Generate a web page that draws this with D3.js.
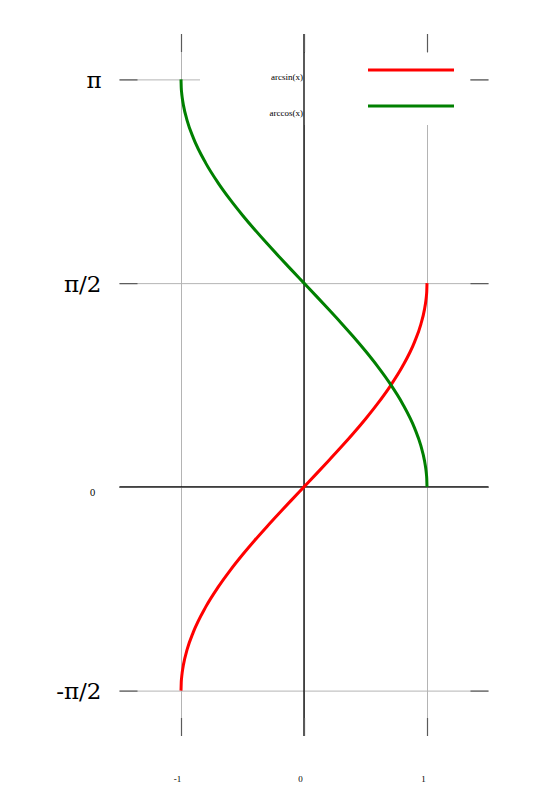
<!DOCTYPE html>
<html>
<head>
<meta charset="utf-8">
<script src="https://cdn.jsdelivr.net/npm/d3@7"></script>
<style>
  body { margin: 0; background: #fff; }
  svg { display: block; }
</style>
</head>
<body>
<div id="chart"></div>
<script>
var xs = [-1, -0.998, -0.995, -0.99, -0.98, -0.95, -0.9, -0.8, -0.7, -0.6, -0.5, -0.4, -0.3, -0.2, -0.1,
  0, 0.1, 0.2, 0.3, 0.4, 0.5, 0.6, 0.7, 0.8, 0.9, 0.95, 0.98, 0.99, 0.995, 0.998, 1];
var arcsinVals = [-1.570796, -1.507540, -1.470755, -1.429257, -1.370461, -1.253236, -1.119770, -0.927295, -0.775397, -0.643501, -0.523599, -0.411517, -0.304693, -0.201358, -0.100167,
  0, 0.100167, 0.201358, 0.304693, 0.411517, 0.523599, 0.643501, 0.775397, 0.927295, 1.119770, 1.253236, 1.370461, 1.429257, 1.470755, 1.507540, 1.570796];
var arccosVals = [3.141593, 3.078333, 3.041551, 3.000054, 2.941258, 2.824032, 2.690566, 2.498092, 2.346194, 2.214297, 2.094395, 1.982313, 1.875489, 1.772154, 1.670964,
  1.570796, 1.470629, 1.369438, 1.266104, 1.159279, 1.047198, 0.927295, 0.795399, 0.643501, 0.451027, 0.317560, 0.200335, 0.141539, 0.100042, 0.063256, 0];

var xTicks = [-1, 0, 1];
var xTickLabels = ["-1", "0", "1"];
var yTicks = [-Math.PI / 2, 0, Math.PI / 2, Math.PI];
var yTickLabels = ["-\u03c0/2", "0", "\u03c0/2", "\u03c0"];
var seriesNames = ["arcsin(x)", "arccos(x)"];
var seriesColors = ["#ff0000", "#008000"];

var width = 540, height = 810;
var plotLeft = 119.5, plotRight = 488.5, plotTop = 34, plotBottom = 736;
var tickLen = 18;

var svg = d3.select("#chart").append("svg")
  .attr("width", width)
  .attr("height", height);

var x = d3.scaleLinear().domain([-1.5, 1.5]).range([plotLeft, plotRight]);
var y = d3.scaleLinear().domain([-Math.PI / 2 - 0.35, Math.PI + 0.35]).range([plotBottom, plotTop]);

// grid lines
svg.append("g")
  .attr("transform", `translate(0,${plotBottom})`)
  .call(d3.axisBottom(x).tickValues(xTicks).tickSize(-(plotBottom - plotTop)).tickFormat(""))
  .call(g => g.select(".domain").remove())
  .call(g => g.selectAll("line").attr("stroke", "#b4b4b4").attr("stroke-width", 1));

svg.append("g")
  .attr("transform", `translate(${plotLeft},0)`)
  .call(d3.axisLeft(y).tickValues(yTicks).tickSize(-(plotRight - plotLeft)).tickFormat(""))
  .call(g => g.select(".domain").remove())
  .call(g => g.selectAll("line").attr("stroke", "#b4b4b4").attr("stroke-width", 1));

// legend background
svg.append("rect")
  .attr("x", 200).attr("y", 53)
  .attr("width", 270).attr("height", 72)
  .attr("fill", "#fff");

// zero axes
svg.append("line")
  .attr("x1", plotLeft).attr("x2", plotRight)
  .attr("y1", y(0)).attr("y2", y(0))
  .attr("stroke", "#000").attr("stroke-width", 1.3);
svg.append("line")
  .attr("x1", x(0)).attr("x2", x(0))
  .attr("y1", plotTop).attr("y2", plotBottom)
  .attr("stroke", "#000").attr("stroke-width", 1.3);

// tick marks on all four sides
function tickStyle(g) {
  g.select(".domain").remove();
  g.selectAll("line").attr("stroke", "#5a5a5a").attr("stroke-width", 1.2);
}
svg.append("g").attr("transform", `translate(0,${plotBottom})`)
  .call(d3.axisBottom(x).tickValues(xTicks).tickSize(-tickLen).tickFormat("")).call(tickStyle);
svg.append("g").attr("transform", `translate(0,${plotTop})`)
  .call(d3.axisTop(x).tickValues(xTicks).tickSize(-tickLen).tickFormat("")).call(tickStyle);
svg.append("g").attr("transform", `translate(${plotLeft},0)`)
  .call(d3.axisLeft(y).tickValues(yTicks).tickSize(-tickLen).tickFormat("")).call(tickStyle);
svg.append("g").attr("transform", `translate(${plotRight},0)`)
  .call(d3.axisRight(y).tickValues(yTicks).tickSize(-tickLen).tickFormat("")).call(tickStyle);

// curves
var line = d3.line()
  .curve(d3.curveMonotoneX)
  .x(function(d) { return x(d[0]); })
  .y(function(d) { return y(d[1]); });

[arcsinVals, arccosVals].forEach(function(vals, k) {
  svg.append("path")
    .attr("d", line(xs.map(function(v, i) { return [v, vals[i]]; })))
    .attr("fill", "none")
    .attr("stroke", seriesColors[k])
    .attr("stroke-width", 3);
});

// x labels
svg.append("g")
  .attr("transform", `translate(0,${plotBottom})`)
  .call(d3.axisBottom(x).tickValues(xTicks).tickSize(0).tickPadding(40)
    .tickFormat(function(d, i) { return xTickLabels[i]; }))
  .call(g => g.select(".domain").remove())
  .call(g => g.selectAll("text")
    .attr("font-family", "Liberation Serif, serif")
    .attr("font-size", 9)
    .attr("fill", "#000")
    .attr("dx", -4));

// y labels
svg.append("g")
  .attr("transform", `translate(${plotLeft},0)`)
  .call(d3.axisLeft(y).tickValues(yTicks).tickSize(0).tickPadding(18)
    .tickFormat(function(d, i) { return yTickLabels[i]; }))
  .call(g => g.select(".domain").remove())
  .call(g => g.selectAll("text")
    .attr("font-family", "DejaVu Serif, serif")
    .attr("fill", "#000")
    .attr("font-size", function(d) { return d === 0 ? 9 : 23; })
    .attr("dx", function(d) { return d === 0 ? -6 : 0; })
    .attr("dy", function(d) { return d === 0 ? "1em" : "0.35em"; }));

// legend
var legend = svg.append("g");
seriesNames.forEach(function(name, k) {
  var ly = 70 + k * 36;
  legend.append("text")
    .attr("x", 303).attr("y", ly + 10)
    .attr("text-anchor", "end")
    .attr("font-family", "Liberation Serif, serif")
    .attr("font-size", 9)
    .attr("fill", "#000")
    .text(name);
  legend.append("line")
    .attr("x1", 368).attr("x2", 454)
    .attr("y1", ly).attr("y2", ly)
    .attr("stroke", seriesColors[k])
    .attr("stroke-width", 3);
});
</script>
</body>
</html>
